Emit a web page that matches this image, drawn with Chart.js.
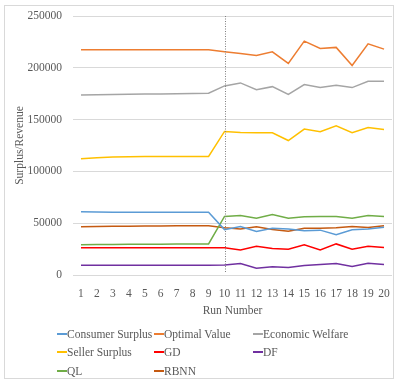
<!DOCTYPE html>
<html><head><meta charset="utf-8">
<script src="https://cdn.jsdelivr.net/npm/chart.js@4"></script>
<style>
html,body{margin:0;padding:0;background:#fff;}
#wrap{position:relative;width:395px;height:383px;}
#frame{position:absolute;left:4px;top:5px;width:390px;height:374px;border:1px solid #d9d9d9;box-sizing:border-box;}
#c{position:absolute;left:0;top:0;}
#legend{position:absolute;left:0;top:0;width:395px;height:383px;font-family:"Liberation Serif",serif;font-size:11.5px;color:#595959;}
.li{position:absolute;white-space:nowrap;line-height:14px;}
.li span.mk{display:inline-block;width:10px;height:2px;vertical-align:middle;margin-right:0px;position:relative;top:-1px;}
</style></head>
<body><div id="wrap"><div id="frame"></div><canvas id="c" width="395" height="322"></canvas><div id="legend"></div></div>
<script>
const runs = ['1','2','3','4','5','6','7','8','9','10','11','12','13','14','15','16','17','18','19','20'];
const consumerSurplus = [61000,60800,60500,60500,60500,60500,60500,60500,60500,43800,46800,42000,45200,44300,42600,43300,38800,43600,44300,46200];
const optimalValue = [217500,217500,217500,217500,217500,217500,217500,217500,217500,215600,213900,211900,215400,204200,225800,218700,219700,202200,223200,218000];
const economicWelfare = [173800,173900,174200,174400,174600,174800,175000,175200,175400,182500,185400,178900,181800,174400,183800,180900,183100,180900,187000,187000];
const sellerSurplus = [112300,113200,113800,114100,114300,114400,114500,114500,114500,138600,137600,137300,137300,129800,140800,138300,144100,137300,142400,140500];
const gd = [26300,26300,26300,26300,26300,26300,26300,26300,26300,26300,24200,27800,25500,24900,29100,24200,30000,24900,27800,26500];
const df = [9500,9500,9500,9500,9500,9500,9500,9500,9500,9600,11000,6600,7900,7200,9100,10100,11000,8100,11300,10100];
const ql = [29200,29400,29500,29600,29700,29800,29900,30000,30000,56500,57500,54900,58400,54900,56200,56500,56500,54900,57500,56500];
const rbnn = [46600,46800,47000,47100,47200,47300,47500,47600,47600,45600,44300,46500,43900,42300,45200,45200,45500,46800,45900,47500];
const seriesNames = ['Consumer Surplus','Optimal Value','Economic Welfare','Seller Surplus','GD','DF','QL','RBNN'];
const seriesColors = ['#5B9BD5','#ED7D31','#A5A5A5','#FFC000','#FF0000','#7030A0','#70AD47','#C55A11'];
const seriesData = [consumerSurplus,optimalValue,economicWelfare,sellerSurplus,gd,df,ql,rbnn];
const yTicks = [0,50000,100000,150000,200000,250000];
const markerRun = '10';

const FONT = "'Liberation Serif', serif";
const vline = {
  id:'vline',
  afterDatasetsDraw(chart){
    const x = chart.scales.x.getPixelForValue(runs.indexOf(markerRun));
    const y = chart.scales.y;
    const ctx = chart.ctx;
    ctx.save();
    ctx.strokeStyle='#7f7f7f';ctx.lineWidth=1;ctx.setLineDash([1,1.5]);
    ctx.beginPath();ctx.moveTo(Math.round(x)+0.5,y.getPixelForValue(250000));ctx.lineTo(Math.round(x)+0.5,y.getPixelForValue(0)-2);ctx.stroke();
    ctx.restore();
  }
};
const chart = new Chart(document.getElementById('c'),{
  type:'line',
  data:{labels:runs,datasets:seriesData.map((d,i)=>({label:seriesNames[i],data:d,borderColor:seriesColors[i],backgroundColor:seriesColors[i],borderWidth:1.5,pointRadius:0,tension:0,fill:false}))},
  options:{
    responsive:false,animation:false,
    layout:{padding:{left:5,right:3,top:16,bottom:0}},
    plugins:{legend:{display:false},tooltip:{enabled:false}},
    scales:{
      x:{offset:true,grid:{display:false,drawTicks:false,offset:true},border:{display:false},
        ticks:{color:'#595959',font:{family:FONT,size:11.5},padding:12,maxRotation:0,autoSkip:false},
        title:{display:true,text:'Run Number',color:'#595959',font:{family:FONT,size:11.5},padding:{top:0,bottom:4}},
        afterFit(s){s.height=47;s.paddingLeft=0;s.paddingRight=0;}},
      y:{min:0,max:250000,grid:{color:'#d9d9d9',lineWidth:1,drawTicks:false},border:{display:false},
        afterBuildTicks(s){s.ticks=yTicks.map(v=>({value:v}));},
        ticks:{color:'#595959',font:{family:FONT,size:11.5},padding:11,callback:v=>String(v)},
        title:{display:true,text:'Surplus/Revenue',color:'#595959',font:{family:FONT,size:11.5},padding:{top:8,bottom:0}},
        afterFit(s){s.width=68;s.paddingTop=0;s.paddingBottom=0;}}
    }
  },
  plugins:[vline]
});
// legend
const legend=document.getElementById('legend');
const colX=[57,154,253], rowY=[334,352,371];
seriesNames.forEach((n,i)=>{
  const r=Math.floor(i/3), c=i%3;
  const d=document.createElement('div');d.className='li';
  d.style.left=colX[c]+'px';d.style.top=(rowY[r]-7)+'px';
  d.innerHTML='<span class="mk" style="background:'+seriesColors[i]+'"></span>'+n;
  legend.appendChild(d);
});
</script></body></html>
